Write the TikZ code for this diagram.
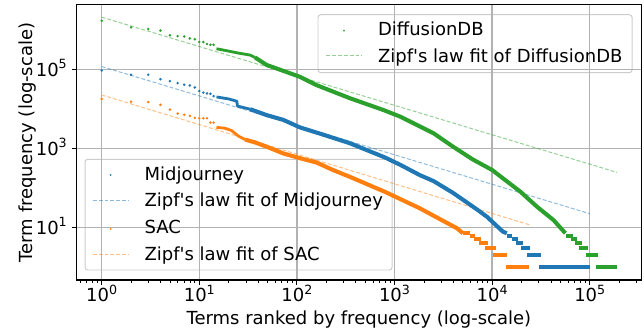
\documentclass[tikz,border=0pt]{standalone}
\usepackage{fontspec}
\setmainfont{DejaVu Sans}
\definecolor{tabblue}{HTML}{1F77B4}
\definecolor{taborange}{HTML}{FF7F0E}
\definecolor{tabgreen}{HTML}{2CA02C}
\newcommand{\tenpow}[1]{10\raisebox{0.42em}{\fontsize{9pt}{9pt}\selectfont #1}}
\newcommand{\apos}{\textquotesingle}

\begin{document}
\begin{tikzpicture}[x=2.44cm, y=0.9875cm, font=\fontsize{12.8pt}{15pt}\selectfont,
	gridline/.style={black!30, line width=1pt},
	legframe/.style={draw=black!20, fill=white, line width=0.7pt, rounded corners=2pt},
	fitline/.style={line width=0.7pt, dash pattern=on 2.8pt off 1.4pt, draw opacity=0.5},
	datacurve/.style={line width=2.9pt, line join=round},
	datahead/.style={line width=2pt, line join=round},
	stepbar/.style={line width=2.9pt},
	leglabel/.style={anchor=base west, inner sep=0pt}]
	\useasboundingbox (-1.042,-1.625) rectangle (5.556,6.754);

	% legend frames (behind the grid)
	\draw[legframe] (2.216,4.914) rectangle (5.434,6.382);
	\draw[legframe] (-0.171,-0.081) rectangle (2.975,2.722);

	% grid
	\foreach \i in {0,1,...,5}
	{
		\draw[gridline] (\i,-0.334) -- (\i,6.63);
	}
	\foreach \i in {1,3,5}
	{
		\draw[gridline] (-0.256,\i) -- (5.526,\i);
	}

	% Zipf fits
	\draw[fitline, tabgreen] (0,6.32) -- (5.28,2.39);
	\draw[fitline, tabblue] (0,5.07) -- (5.00,1.345);
	\draw[fitline, taborange] (0,4.35) -- (4.38,1.065);

	% DiffusionDB
	\foreach \r/\f in {1/6.23,2/6.06,3/6.02,4/5.98,5/5.86,6/5.84,7/5.83,8/5.78,9/5.76,10/5.69,11/5.69,12/5.64,13/5.62,14/5.62}
	{
		\fill[tabgreen] ({log10(\r)},\f) circle (1pt);
	}
	\draw[datahead, tabgreen] plot coordinates {(1.176,5.52) (1.30,5.46) (1.40,5.41) (1.52,5.36) (1.57,5.30)};
	\draw[datacurve, tabgreen] plot coordinates {(1.57,5.30) (1.69,5.11) (1.86,4.96) (2.03,4.81) (2.20,4.60) (2.54,4.27) (2.885,3.97) (3.06,3.80) (3.23,3.59) (3.40,3.38) (3.60,3.04) (3.80,2.72) (4.00,2.45) (4.29,1.90) (4.46,1.52) (4.63,1.18) (4.75,0.85)};
	\foreach \a/\b/\f in {4.76/4.83/6,4.81/4.87/5,4.85/4.92/4,4.89/4.98/3,4.96/5.08/2,5.06/5.28/1}
	{
		\draw[stepbar, tabgreen] (\a,{log10(\f)}) -- (\b,{log10(\f)});
	}

	% Midjourney
	\foreach \r/\f in {1/4.97,2/4.86,3/4.86,4/4.75,5/4.70,6/4.65,7/4.61,8/4.59,9/4.54,10/4.45,11/4.41,12/4.39,13/4.38,14/4.32}
	{
		\fill[tabblue] ({log10(\r)},\f) circle (1pt);
	}
	\draw[datahead, tabblue] plot coordinates {(1.176,4.30) (1.30,4.25) (1.385,4.19) (1.39,4.07) (1.52,3.99)};
	\draw[datacurve, tabblue] plot coordinates {(1.52,3.99) (1.69,3.84) (1.86,3.72) (2.03,3.53) (2.25,3.36) (2.54,3.13) (2.90,2.77) (3.06,2.58) (3.26,2.32) (3.40,2.17) (3.60,1.87) (3.84,1.46) (3.945,1.27) (4.11,0.89) (4.15,0.85)};
	\foreach \a/\b/\f in {4.155/4.20/6,4.20/4.27/5,4.245/4.32/4,4.30/4.39/3,4.36/4.50/2,4.48/5.00/1}
	{
		\draw[stepbar, tabblue] (\a,{log10(\f)}) -- (\b,{log10(\f)});
	}

	% SAC
	\foreach \r/\f in {1/4.25,2/4.18,3/4.17,4/4.10,5/3.98,6/3.88,7/3.85,8/3.82,9/3.77,10/3.76,11/3.76,12/3.76,13/3.65,14/3.65}
	{
		\fill[taborange] ({log10(\r)},\f) circle (1pt);
	}
	\draw[datahead, taborange] plot coordinates {(1.176,3.53) (1.26,3.51) (1.33,3.45) (1.40,3.31) (1.47,3.22)};
	\draw[datacurve, taborange] plot coordinates {(1.47,3.22) (1.57,3.15) (1.69,3.04) (1.86,2.87) (2.03,2.75) (2.20,2.64) (2.37,2.45) (2.54,2.28) (2.90,1.90) (3.26,1.48) (3.47,1.20) (3.64,0.975) (3.70,0.85)};
	\foreach \a/\b/\f in {3.70/3.77/7,3.77/3.82/6,3.81/3.89/5,3.87/3.955/4,3.93/4.04/3,4.01/4.155/2,4.14/4.38/1}
	{
		\draw[stepbar, taborange] (\a,{log10(\f)}) -- (\b,{log10(\f)});
	}

	% axes, ticks and tick labels
	\draw[line width=0.8pt] (-0.256,-0.334) rectangle (5.526,6.63);
	\foreach \i in {0,1,...,5}
	{
		\draw[line width=0.7pt] (\i,-0.334) -- ++(0,-3.5pt);
		\node[anchor=base, inner sep=0pt] (xt\i) at (\i,-0.884) {\tenpow{\i}};
	}
	\begin{scope}
		\clip (-0.257,-1) rectangle (5.527,-0.334);
		\foreach \d in {-1,0,...,5}
		{
			\foreach \k in {2,...,9}
			{
				\draw[line width=0.5pt] ({\d+log10(\k)},-0.334) -- ++(0,-2pt);
			}
		}
	\end{scope}
	\foreach \i in {1,3,5}
	{
		\draw[line width=0.7pt] (-0.256,\i) -- ++(-3.5pt,0);
		\node[anchor=base east, inner sep=0pt] (yt\i) at (-0.355,\i-0.17) {\tenpow{\i}};
	}
	\node[anchor=base, inner sep=0pt] (xlab) at (2.635,-1.473) {Terms ranked by frequency (log-scale)};
	\node[anchor=base, inner sep=0pt, rotate=90] (ylab) at (-0.714,3.147) {Term frequency (log-scale)};

	% legend entries
	\fill[tabgreen] (2.482,5.977) circle (0.7pt);
	\draw[fitline, tabgreen] (2.298,5.344) -- (2.664,5.344);
	\node[leglabel] (legDiff) at (2.828,5.843) {DiffusionDB};
	\node[leglabel] (legDiffFit) at (2.828,5.167) {Zipf\apos s law fit of DiffusionDB};

	\fill[tabblue] (0.092,2.324) circle (0.7pt);
	\draw[fitline, tabblue] (-0.092,1.673) -- (0.280,1.673);
	\fill[taborange] (0.092,0.957) circle (0.7pt);
	\draw[fitline, taborange] (-0.092,0.324) -- (0.280,0.324);
	\node[leglabel] (legMid) at (0.436,2.197) {Midjourney};
	\node[leglabel] (legMidFit) at (0.436,1.522) {Zipf\apos s law fit of Midjourney};
	\node[leglabel] (legSac) at (0.436,0.848) {SAC};
	\node[leglabel] (legSacFit) at (0.436,0.172) {Zipf\apos s law fit of SAC};
\end{tikzpicture}
\end{document}
